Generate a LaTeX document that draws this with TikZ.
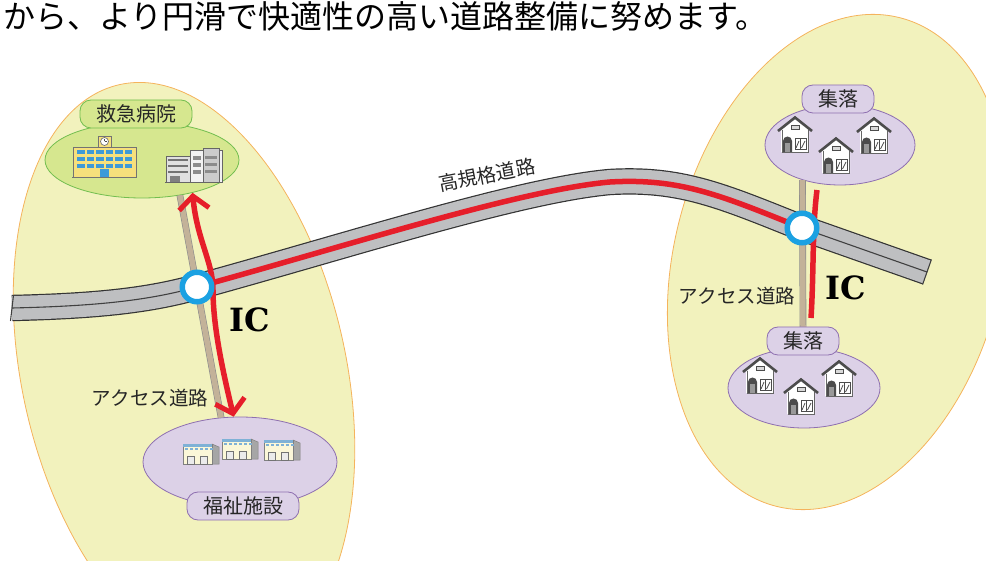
\documentclass[tikz,border=0pt]{standalone}
\usepackage{fontspec}
\setmainfont{Noto Sans CJK JP}
\newfontfamily\icfont{DejaVu Serif}
\usetikzlibrary{shapes.geometric, arrows.meta}
\definecolor{areayellow}{HTML}{F2F2BD}
\definecolor{areaedge}{HTML}{F5B35C}
\definecolor{roadgray}{HTML}{BEBFC1}
\definecolor{icblue}{HTML}{1BA1E2}
\definecolor{routered}{HTML}{E61E2A}
\definecolor{accesstan}{HTML}{C3B299}
\definecolor{hospgreen}{HTML}{D6E78F}
\definecolor{hospedge}{HTML}{72BE4F}
\definecolor{lilac}{HTML}{DCD1E7}
\definecolor{lilacedge}{HTML}{8E6FB0}
\definecolor{schoolyellow}{HTML}{F6E07C}
\definecolor{winblue}{HTML}{3D9AD8}
\definecolor{carecream}{HTML}{FBF7D8}
\definecolor{carestripe}{HTML}{7FB1D6}

% small building icons, origin at the top left corner
\tikzset{
  house/.pic={
    \fill[white] (3,14) -- (17,3) -- (31,14) -- (31,36) -- (3,36) -- cycle;
    \draw[black!60, line width=0.8] (4,14) -- (4,36) -- (30,36) -- (30,14);
    \draw[black!70, line width=2.6, line join=miter] (0,15) -- (17,1.5) -- (34,15);
    \draw[black!70, fill=black!15, line width=0.8] (13,9) rectangle (21,13);
    \fill[black!70] (5,36) -- (5,25) arc[start angle=180, end angle=360, radius=4.5] -- (14,36) -- cycle;
    \fill[black!40] (7,36) rectangle (12,27);
    \draw[black!70, fill=white, line width=1] (17,23) rectangle (28,34);
    \draw[black!70, line width=0.8] (22.5,23) -- (22.5,34) (18,32) -- (21,25) (23.5,32) -- (27,25);
  },
  school/.pic={
    \draw[black!55, fill=schoolyellow, line width=0.7] (25,1) rectangle (38,12);
    \draw[black!55, fill=white, line width=0.7] (31.5,6.5) circle[radius=4];
    \draw[black!70, line width=0.6] (31.5,6.5) -- (31.5,4) (31.5,6.5) -- (33.5,6.5);
    \draw[black!55, fill=schoolyellow, line width=0.7] (0,12) rectangle (63,42);
    \foreach \r in {15,22,29}
      \foreach \c in {0,...,5}
        \fill[winblue] ({4+\c*9.5},\r) rectangle ++(7.5,4.5);
    \fill[winblue] (27,34) rectangle (36,42);
    \draw[black!55, line width=0.8] (-1,42) -- (64,42);
  },
  clinic/.pic={
    \draw[black!60, fill=black!12, line width=0.6] (0,8) rectangle (24,34);
    \draw[black!60, fill=black!5, line width=0.6] (24,2) rectangle (56,34);
    \draw[black!60, fill=black!20, line width=0.6] (37,0) rectangle (53,34);
    \foreach \r in {12,18,24}
      \draw[black!55, line width=1.2] (2,\r) -- (22,\r);
    \foreach \r in {8,15,22} {
      \fill[black!45] (27,\r) rectangle ++(8,4);
      \fill[black!45] (39,\r) rectangle ++(12,3);
    }
    \fill[black!50] (4,28) rectangle (14,34);
    \draw[black!60, line width=0.8] (-1,34) -- (57,34);
  },
  carehome/.pic={
    \draw[black!50, fill=black!35, line width=0.5] (29,2) -- (36,5) -- (36,22) -- (29,22) -- cycle;
    \draw[black!50, fill=carecream, line width=0.5] (0,2) rectangle (29,22);
    \fill[carestripe] (0,2) rectangle (29,4.5);
    \foreach \c in {2,7,...,27}
      \fill[carestripe] (\c,6) rectangle ++(2.5,2);
    \draw[black!55, fill=black!8, line width=0.6] (4,14) rectangle (11,22) (17,14) rectangle (24,22);
  },
}

\begin{document}
\begin{tikzpicture}[x=1pt, y=-1pt,
    area/.style={ellipse, draw=areaedge, fill=areayellow, line width=0.8pt, inner sep=0pt},
    zone/.style={ellipse, line width=0.8pt, inner sep=0pt},
    tag/.style={rounded corners=11pt, line width=0.8pt, inner xsep=16pt, inner ysep=0pt,
      minimum height=28pt, text=black!85, font=\fontsize{20}{24}\selectfont},
    hwy/.style={draw=black!80, line width=1.2pt, double=roadgray, double distance=24pt},
    lane/.style={draw=black!75, line width=1.1pt},
    access/.style={draw=black!45, line width=0.6pt, double=accesstan, double distance=5.5pt},
    route/.style={draw=routered, line width=5.5pt},
    barb/.tip={Straight Barb[length=13pt, width=30pt, line width=5pt]},
    ic/.style={circle, draw=icblue, fill=white, line width=5.5pt, minimum size=29.5pt, inner sep=0pt},
    iclabel/.style={font=\icfont\bfseries\fontsize{32}{36}\selectfont},
    roadname/.style={text=black!85, font=\fontsize{19.5}{22}\selectfont}
]
    \useasboundingbox (0,0) rectangle (986,561);
    \clip (0,0) rectangle (986,561);

    \node[anchor=base west, inner sep=0pt, font=\fontsize{32}{35}\selectfont] (lead) at (3,29)
        {から、より円滑で快適性の高い道路整備に努めます。};

    % service areas
    \node[area, minimum width=324, minimum height=591, rotate=12.6] (westArea) at (184,373) {};
    \node[area, minimum width=328, minimum height=504, rotate=-14.2] (eastArea) at (838,262) {};

    % highway
    \coordinate (hwW) at (12,308);
    \coordinate (icL) at (197,287);
    \coordinate (icR) at (802,228);
    \coordinate (hwE) at (927,272);
    \draw[hwy] (hwW) .. controls (100,306) and (150,300) .. (icL)
        .. controls (350,245) and (520,190) .. (610,182)
        .. controls (680,178) and (720,195) .. (icR) -- (hwE);
    \draw[lane] (hwW) .. controls (100,306) and (150,300) .. (icL);
    \draw[lane] (icR) -- (hwE);
    \draw[lane] (hwW) ++(1.5,-13) -- ++(-3,26);
    \draw[lane] (hwE) ++(4.4,-12.5) -- ++(-8.8,25);
    \node[roadname, rotate=11] (hwName) at (487,175) {高規格道路};

    % destinations
    \node[zone, draw=hospedge, fill=hospgreen, minimum width=194, minimum height=76] (hosp) at (142,160) {};
    \node[tag, draw=hospedge, fill=hospgreen] (hospTag) at (136,114) {救急病院};
    \pic at (73,135) {school};
    \pic at (166,148) {clinic};

    \node[zone, draw=lilacedge, fill=lilac, minimum width=194, minimum height=90] (welfare) at (240,462) {};
    \node[tag, draw=lilacedge, fill=lilac] (welfareTag) at (243,506) {福祉施設};
    \pic at (183,442) {carehome};
    \pic at (222,437) {carehome};
    \pic at (264,438) {carehome};

    \node[zone, draw=lilacedge, fill=lilac, minimum width=150, minimum height=80] (settleN) at (840,145) {};
    \node[tag, draw=lilacedge, fill=lilac] (settleNTag) at (838,99) {集落};
    \pic at (778,116) {house};
    \pic at (819,137) {house};
    \pic at (857,117) {house};

    \node[zone, draw=lilacedge, fill=lilac, minimum width=152, minimum height=80] (settleS) at (804,388) {};
    \pic at (743,357) {house};
    \pic at (784,378) {house};
    \pic at (822,360) {house};

    % access roads
    \draw[access] (hosp.-43) -- (welfare.113);
    \draw[access] (settleN.-137) -- (803,327);
    \node[tag, draw=lilacedge, fill=lilac] (settleSTag) at (803,341) {集落};

    % routes via the interchanges
    \draw[route] (icL) .. controls (350,245) and (520,190) .. (610,182)
        .. controls (680,178) and (720,195) .. (icR);
    \draw[route, barb-barb] (hosp.-33) .. controls (197,240) and (213,262) .. (213,290)
        .. controls (213,330) and (225,380) .. (welfare.98);
    \coordinate (rtN) at (817,190);
    \coordinate (rtS) at (811,318);
    \draw[route] (rtN) .. controls (812,230) and (814,270) .. (rtS);

    \node[ic] (icLring) at (icL) {};
    \node[ic] (icRring) at (icR) {};
    \node[iclabel] (icLname) at (250,320) {IC};
    \node[iclabel] (icRname) at (846,288) {IC};

    \node[roadname] (accessW) at (150,398) {アクセス道路};
    \node[roadname] (accessE) at (737,296) {アクセス道路};
\end{tikzpicture}
\end{document}
